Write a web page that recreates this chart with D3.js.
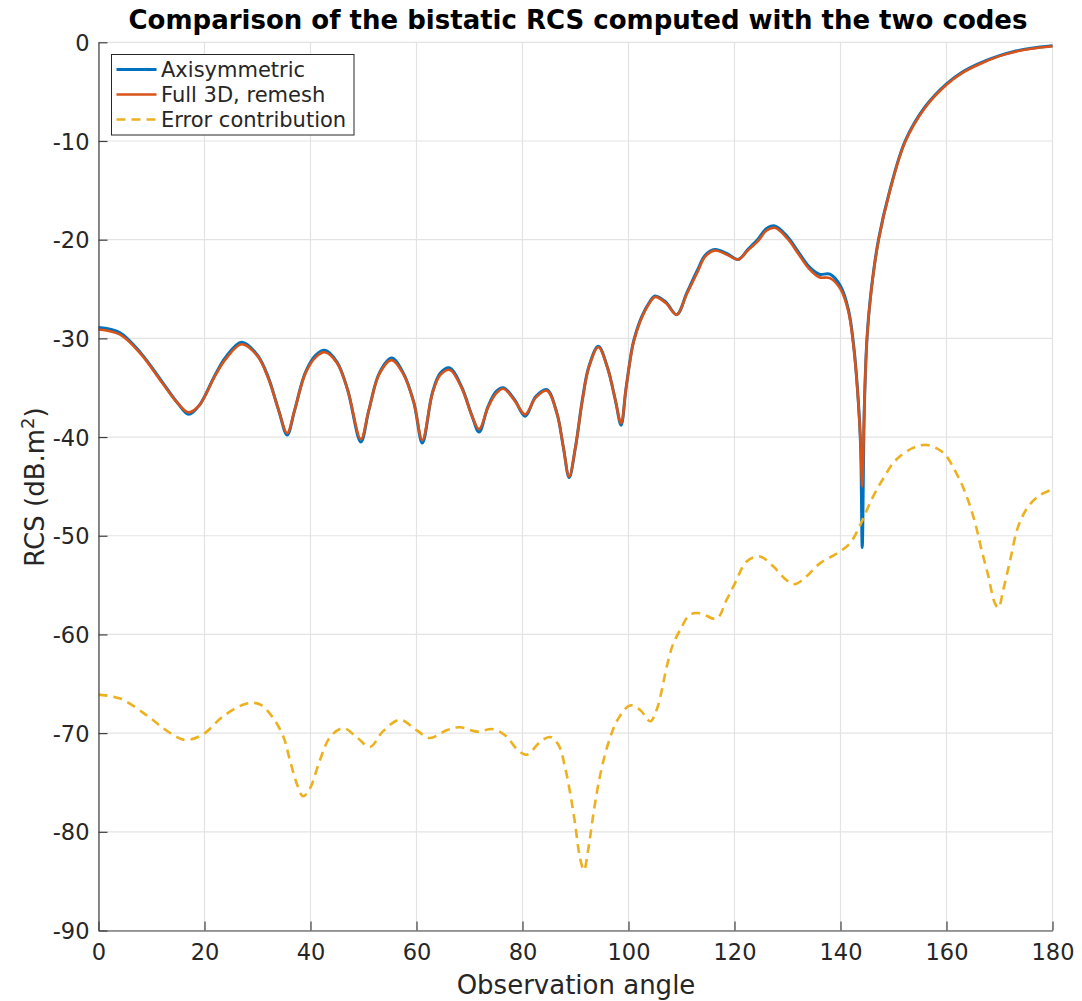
<!DOCTYPE html>
<html>
<head>
<meta charset="utf-8">
<script src="https://cdn.jsdelivr.net/npm/d3@7"></script>
<style>
  body { margin: 0; background: #fff; }
  svg { display: block; font-family: "DejaVu Sans", sans-serif; }
</style>
</head>
<body>
<svg id="chart" width="1082" height="1001"></svg>
<script>
/* angles (deg) and RCS (dB.m^2) */
const rcsAngles = [0, 4, 8, 12, 15, 17, 19, 22, 24, 27,
  30, 32, 34, 35.6, 37, 39, 41, 42.7, 45, 47,
  49.5, 51, 53, 55.3, 57.5, 59.5, 61.1, 63, 64.5, 66.3,
  68.5, 70.5, 71.8, 73.5, 75, 76.4, 78.5, 80.5, 82.5, 84.6,
  86.5, 87.7, 88.8, 90, 91.3, 92.5, 94.3, 96, 97.5, 98.6,
  99.5, 100.5, 101, 102.5, 104, 105, 107, 109.1, 111, 113,
  114.5, 116.3, 118.5, 120.7, 122.5, 124.5, 126, 127.6, 130, 132,
  134, 136, 138, 140, 141.5, 142.5, 143.3, 143.8, 144.1, 144.5,
  145, 145.8, 147.2, 149.3, 152.2, 156, 160, 163, 166.3, 170,
  172.6, 176, 180];

const axisymmetric = [-28.9, -29.4, -31.5, -34.4, -36.6, -37.7, -36.8, -33.7, -31.9, -30.4,
  -31.7, -33.9, -37.3, -39.8, -37.3, -33.5, -31.7, -31.2, -32.4, -35.2,
  -40.5, -37.3, -33.5, -32.0, -33.5, -36.5, -40.6, -35.5, -33.5, -33.0,
  -34.9, -37.9, -39.5, -36.9, -35.4, -35.0, -36.2, -37.9, -35.9, -35.2,
  -37.6, -41.0, -44.1, -41.0, -36.2, -32.9, -30.8, -32.9, -36.2, -38.8,
  -35.2, -31.5, -30.2, -27.8, -26.3, -25.7, -26.3, -27.6, -25.4, -23.1,
  -21.55, -21.0, -21.4, -22.0, -21.0, -19.9, -18.9, -18.6, -19.7, -21.2,
  -22.7, -23.5, -23.5, -24.7, -27.1, -30.8, -35.9, -41.0, -51.2, -37.0,
  -30.0, -25.1, -19.9, -15.0, -10.0, -6.5, -4.2, -3.0, -2.1, -1.35,
  -0.95, -0.6, -0.35];

const full3D = [-29.1, -29.6, -31.6, -34.5, -36.6, -37.5, -36.8, -33.8, -32.1, -30.6,
  -31.8, -34.0, -37.3, -39.6, -37.3, -33.6, -31.9, -31.4, -32.5, -35.2,
  -40.2, -37.3, -33.6, -32.2, -33.6, -36.5, -40.3, -35.6, -33.7, -33.2,
  -35.0, -37.9, -39.2, -37.0, -35.6, -35.1, -36.3, -37.7, -36.0, -35.3,
  -37.6, -41.0, -44.0, -41.0, -36.3, -33.0, -30.9, -32.9, -36.2, -38.6,
  -35.2, -31.6, -30.3, -27.9, -26.4, -25.8, -26.4, -27.6, -25.5, -23.3,
  -21.7, -21.1, -21.5, -22.0, -21.1, -20.1, -19.1, -18.8, -19.9, -21.4,
  -22.9, -23.8, -23.9, -25.0, -27.3, -31.0, -36.0, -40.8, -45.0, -36.8,
  -30.0, -25.2, -20.0, -15.1, -10.1, -6.6, -4.3, -3.1, -2.2, -1.4,
  -1.0, -0.65, -0.4];

const errAngles = [0, 4.1, 9.1, 12.2, 14.8, 16.6, 19.8, 23.5, 28, 30.5, 33, 34.9, 36.1, 37.4, 38.6, 39.9,
  41.8, 43.7, 46.2, 48.7, 51.2, 53.7, 56.9, 60, 62.5, 65.7, 68.2, 71.4, 74.5, 77, 78.9, 80.8, 83.3, 85.2,
  86.8, 88, 89, 89.9, 90.8, 91.6, 92.4, 93.4, 94.6, 96.2, 98.1, 100.3, 102.2, 104.1, 105.3, 106.3, 107.2,
  108.4, 109.7, 111.6, 113.5, 116.6, 118.5, 120.1, 122.3, 124.8, 127.3, 129.8, 131.4, 133.6, 136.1,
  139.3, 141.8, 143.9, 145.8, 147.9, 150.5, 153.7, 156.3, 159.4, 161.9, 163.8, 165.4, 166.6, 167.9,
  169.1, 169.8, 170.7, 172, 173.5, 175.4, 177.6, 180];

const errorContribution = [-66.1, -66.5, -68.2, -69.5, -70.4, -70.7, -70.1, -68.3, -67.0, -67.1, -68.5,
  -70.4, -72.7, -75.1, -76.4, -75.6, -72.7, -70.4, -69.5, -70.4, -71.4, -69.8, -68.65, -69.7, -70.5,
  -69.7, -69.4, -69.85, -69.6, -70.35, -71.6, -72.2, -70.9, -70.4, -71.2, -73.4, -76.1, -79.1, -82.5,
  -83.9, -81.8, -78.1, -74.4, -71.0, -68.5, -67.2, -67.65, -68.8, -67.65, -65.6, -63.3, -61.0, -59.6,
  -58.0, -57.85, -58.4, -56.5, -54.8, -52.6, -52.1, -53.1, -54.5, -54.9, -54.1, -52.8, -51.8, -50.75,
  -48.7, -46.4, -44.35, -42.3, -41.1, -40.8, -41.6, -43.7, -46.0, -48.7, -51.4, -54.1, -56.8, -57.3,
  -55.5, -52.5, -49.1, -47.05, -45.9, -45.3];

const xTicks = [0, 20, 40, 60, 80, 100, 120, 140, 160, 180];
const yTicks = [0, -10, -20, -30, -40, -50, -60, -70, -80, -90];
const seriesNames = ["Axisymmetric", "Full 3D, remesh", "Error contribution"];
const seriesColors = ["#0072BD", "#D95319", "#EDB120"];

const svg = d3.select("#chart");
const margin = {left: 98.5, right: 29.5, top: 42.3, bottom: 70.5};
const width = 1082, height = 1001;

const x = d3.scaleLinear().domain([0, 180]).range([margin.left, width - margin.right]);
const y = d3.scaleLinear().domain([-90, 0]).range([height - margin.bottom, margin.top]);

/* grid */
const grid = svg.append("g").attr("stroke", "#e3e3e3").attr("stroke-width", 1.2);
grid.selectAll(".gx").data(xTicks).enter().append("line")
  .attr("x1", d => x(d)).attr("x2", d => x(d))
  .attr("y1", y(-90)).attr("y2", y(0));
grid.selectAll(".gy").data(yTicks).enter().append("line")
  .attr("x1", x(0)).attr("x2", x(180))
  .attr("y1", d => y(d)).attr("y2", d => y(d));

/* lines */
const pair = (xs, ys) => xs.map((a, i) => [a, ys[i]]);
const line = d3.line().x(d => x(d[0])).y(d => y(d[1])).curve(d3.curveCatmullRom.alpha(0.5));

svg.append("path").datum(pair(rcsAngles, axisymmetric))
  .attr("d", line).attr("fill", "none")
  .attr("stroke", seriesColors[0]).attr("stroke-width", 3);
svg.append("path").datum(pair(rcsAngles, full3D))
  .attr("d", line).attr("fill", "none")
  .attr("stroke", seriesColors[1]).attr("stroke-width", 2.6);
svg.append("path").datum(pair(errAngles, errorContribution))
  .attr("d", line).attr("fill", "none")
  .attr("stroke", seriesColors[2]).attr("stroke-width", 2.6)
  .attr("stroke-dasharray", "9,6");

/* axes */
const xAxis = d3.axisBottom(x).tickValues(xTicks).tickFormat(d => String(d))
  .tickSize(-9).tickSizeOuter(0).tickPadding(14);
const yAxis = d3.axisLeft(y).tickValues(yTicks).tickFormat(d => String(d))
  .tickSize(-9).tickSizeOuter(0).tickPadding(9);

const gx = svg.append("g").attr("transform", `translate(0,${y(-90)})`).call(xAxis);
const gy = svg.append("g").attr("transform", `translate(${x(0)},0)`).call(yAxis);
[gx, gy].forEach(g => {
  g.select(".domain").attr("stroke", "#404040").attr("stroke-width", 1.2);
  g.selectAll(".tick line").attr("stroke", "#404040").attr("stroke-width", 1.2);
  g.selectAll(".tick text").attr("fill", "#262626")
    .style("font-family", "DejaVu Sans").style("font-size", "22.5px");
});
gx.selectAll(".tick text").attr("dy", "0.71em");
gy.selectAll(".tick text").attr("dy", "0.36em");

/* titles */
svg.append("text").attr("x", 578).attr("y", 29).attr("text-anchor", "middle")
  .style("font-size", "26px").style("font-weight", "bold").attr("fill", "#000")
  .text("Comparison of the bistatic RCS computed with the two codes");

svg.append("text").attr("x", 576).attr("y", 994).attr("text-anchor", "middle")
  .style("font-size", "26px").attr("fill", "#262626")
  .text("Observation angle");

const yl = svg.append("text")
  .attr("transform", `translate(44,487) rotate(-90)`).attr("text-anchor", "middle")
  .style("font-size", "26px").attr("fill", "#262626");
yl.append("tspan").text("RCS (dB.m");
yl.append("tspan").attr("dy", -10).style("font-size", "18px").text("2");
yl.append("tspan").attr("dy", 10).text(")");

/* legend */
const lg = svg.append("g").attr("transform", "translate(111.5,54.5)");
lg.append("rect").attr("width", 242.5).attr("height", 80.5)
  .attr("fill", "#fff").attr("stroke", "#262626").attr("stroke-width", 1);
seriesNames.forEach((name, i) => {
  const ry = 15 + i * 25;
  lg.append("line").attr("x1", 5).attr("x2", 45).attr("y1", ry).attr("y2", ry)
    .attr("stroke", seriesColors[i]).attr("stroke-width", i === 0 ? 3 : 2.6)
    .attr("stroke-dasharray", i === 2 ? "9,6" : null);
  lg.append("text").attr("x", 49.5).attr("y", ry).attr("dy", "0.36em")
    .style("font-size", "21px").attr("fill", "#262626").text(name);
});
</script>
</body>
</html>
